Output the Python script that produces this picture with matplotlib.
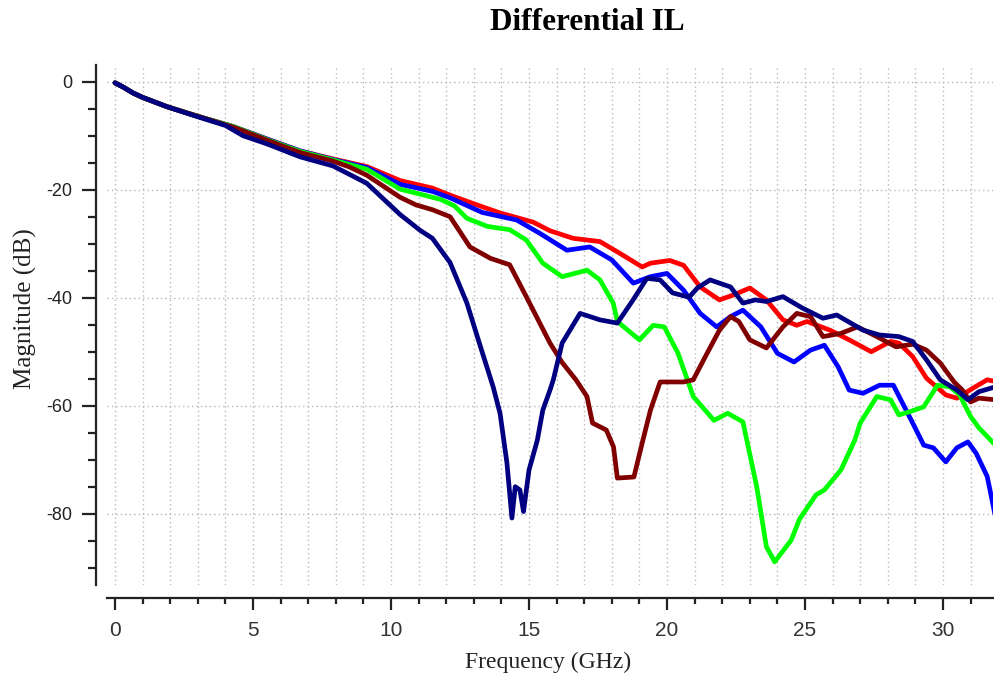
import matplotlib.pyplot as plt
from matplotlib.ticker import MultipleLocator

plt.rcParams['axes.unicode_minus'] = False

# values (GHz, dB)
f_red = [0, 0.3, 0.66, 1.0, 1.87, 3.0, 4.28, 5.5, 6.7, 7.9, 9.12, 10.33, 11.5, 12.14, 13.0, 13.95,
         15.15, 15.76, 16.6, 17.57, 18.2, 19.1, 19.4, 20.1, 20.6, 21.2, 21.9, 22.4, 23.0, 23.6,
         24.2, 24.7, 25.07, 25.9, 26.6, 27.4, 28.1, 28.4, 28.9, 29.4, 30.1, 30.5, 31.1, 31.6, 31.9]
il_red = [-0.2, -1.0, -2.1, -2.9, -4.6, -6.4, -8.3, -10.6, -12.8, -14.3, -15.7, -18.3, -19.7, -21.0,
          -22.6, -24.3, -26.0, -27.6, -29.0, -29.6, -31.5, -34.3, -33.6, -33.1, -34.0, -38.0, -40.4,
          -39.5, -38.2, -40.4, -44.1, -45.1, -44.4, -46.0, -47.8, -50.0, -48.1, -48.4, -50.9, -54.9,
          -58.0, -58.6, -56.7, -55.2, -55.5]

f_blue = [0, 0.3, 0.66, 1.0, 1.87, 3.0, 4.28, 5.5, 6.7, 7.9, 9.12, 10.33, 11.5, 12.14, 13.3, 14.55,
          15.4, 16.37, 17.2, 18.0, 18.78, 19.4, 20.0, 20.6, 21.2, 21.8, 22.3, 22.75, 23.4, 24.0,
          24.6, 25.2, 25.7, 26.2, 26.6, 27.1, 27.7, 28.2, 28.6, 28.9, 29.3, 29.65, 30.1, 30.5,
          30.9, 31.2, 31.6, 31.9]
il_blue = [-0.2, -1.0, -2.1, -2.9, -4.6, -6.4, -8.3, -10.6, -12.8, -14.4, -15.9, -19.0, -20.3, -21.5,
           -24.2, -25.6, -28.1, -31.2, -30.6, -33.0, -37.3, -36.1, -35.5, -38.6, -42.9, -45.4,
           -43.5, -42.3, -45.4, -50.3, -51.9, -49.7, -48.8, -52.8, -57.1, -57.7, -56.2, -56.2,
           -60.2, -63.2, -67.3, -67.8, -70.4, -67.8, -66.7, -68.8, -73.1, -80.6]

f_green = [0, 0.3, 0.66, 1.0, 1.87, 3.0, 4.28, 5.5, 6.7, 7.9, 9.12, 10.33, 11.2, 11.8, 12.3, 12.75,
           13.5, 14.3, 14.9, 15.5, 16.2, 17.1, 17.57, 18.05, 18.2, 19.0, 19.5, 19.9, 20.4, 20.95,
           21.7, 22.2, 22.75, 23.25, 23.6, 23.9, 24.5, 24.8, 25.4, 25.7, 26.3, 26.8, 27.0, 27.6,
           28.1, 28.4, 28.8, 29.3, 29.8, 30.25, 30.6, 31.0, 31.3, 31.9]
il_green = [-0.2, -1.0, -2.1, -2.9, -4.6, -6.4, -8.3, -10.7, -12.9, -14.5, -16.2, -19.9, -21.0,
            -21.8, -23.0, -25.3, -26.8, -27.4, -29.3, -33.6, -36.1, -34.9, -36.7, -41.0, -44.4,
            -47.8, -45.1, -45.4, -50.3, -58.3, -62.7, -61.4, -63.0, -75.0, -86.1, -88.9, -84.9,
            -81.0, -76.5, -75.6, -71.9, -66.4, -63.2, -58.3, -58.9, -61.7, -61.1, -60.2, -56.2,
            -56.5, -58.0, -62.0, -64.1, -67.3]

f_maroon = [0, 0.3, 0.66, 1.0, 1.87, 3.0, 4.28, 5.5, 6.7, 7.9, 8.5, 9.12, 10.33, 10.9, 11.5, 12.14,
            12.86, 13.6, 14.3, 14.9, 15.76, 16.2, 16.7, 17.1, 17.3, 17.8, 18.06, 18.2, 18.8, 19.1,
            19.4, 19.75, 20.6, 20.95, 21.45, 21.9, 22.3, 22.6, 23.0, 23.6, 24.2, 24.7, 25.2,
            25.65, 26.3, 26.9, 27.6, 28.3, 28.9, 29.4, 29.9, 30.4, 30.7, 31.0, 31.3, 31.9]
il_maroon = [-0.2, -1.0, -2.1, -2.9, -4.6, -6.4, -8.4, -10.8, -13.1, -14.7, -15.8, -17.3, -21.4,
             -22.8, -23.7, -25.0, -30.6, -32.7, -33.9, -39.8, -48.4, -52.0, -55.2, -58.3, -63.2,
             -64.5, -67.6, -73.4, -73.2, -66.9, -60.8, -55.6, -55.6, -55.2, -50.3, -46.0, -43.5,
             -44.4, -47.8, -49.3, -45.4, -42.9, -43.5, -47.2, -46.6, -45.4, -47.2, -49.1, -48.6,
             -49.7, -52.1, -55.6, -57.1, -59.3, -58.6, -58.9]

f_navy = [0, 0.3, 0.66, 1.0, 1.87, 3.0, 4.0, 4.64, 5.5, 6.7, 7.9, 9.12, 10.33, 11.05, 11.5, 12.14,
          12.75, 13.2, 13.7, 13.95, 14.2, 14.38, 14.5, 14.67, 14.8, 15.0, 15.3, 15.5, 15.76, 15.88,
          16.2, 16.85, 17.57, 18.2, 18.77, 19.27, 19.75, 20.2, 20.8, 21.1, 21.56, 22.3, 22.75,
          23.2, 23.6, 24.2, 24.9, 25.65, 26.15, 27.1, 27.7, 28.4, 28.9, 29.4, 29.9, 30.5, 30.9,
          31.3, 31.9]
il_navy = [-0.2, -1.0, -2.1, -2.9, -4.6, -6.5, -8.1, -10.0, -11.5, -13.9, -15.6, -18.8, -24.6,
           -27.5, -29.0, -33.5, -41.0, -48.4, -56.5, -61.4, -70.6, -80.8, -75.0, -75.6, -79.6,
           -71.9, -66.4, -60.8, -57.1, -55.2, -48.4, -42.9, -44.1, -44.7, -40.4, -36.4, -36.7,
           -39.1, -39.9, -38.2, -36.7, -38.0, -41.0, -40.4, -40.7, -39.8, -41.9, -43.8, -43.2,
           -46.0, -46.9, -47.2, -48.1, -51.5, -55.2, -57.1, -58.9, -57.4, -56.5]

series = [
    (f_red, il_red, '#ff0000'),
    (f_blue, il_blue, '#0000ff'),
    (f_green, il_green, '#00ff00'),
    (f_maroon, il_maroon, '#800000'),
    (f_navy, il_navy, '#000080'),
]

fig = plt.figure(figsize=(9.95, 6.82), dpi=100)
ax = fig.add_axes([107 / 995, 1 - 585 / 682, 886 / 995, 520 / 682])

for f, il, c in series:
    ax.plot(f, il, color=c, lw=3.4, solid_joinstyle='round', solid_capstyle='round')

ax.set_xlim(-0.29, 31.81)
ax.set_ylim(-93.2, 3.1)

ax.xaxis.set_major_locator(MultipleLocator(5))
ax.xaxis.set_minor_locator(MultipleLocator(1))
ax.yaxis.set_major_locator(MultipleLocator(20))
ax.yaxis.set_minor_locator(MultipleLocator(5))

ax.grid(which='both', axis='x', color='#b8b8b8', linestyle=(0, (1, 2.2)), lw=1.0)
ax.grid(which='major', axis='y', color='#b8b8b8', linestyle=(0, (1, 2.2)), lw=1.0)
ax.set_axisbelow(True)

for s in ['top', 'right']:
    ax.spines[s].set_visible(False)
ax.spines['left'].set_position(('outward', 8))
ax.spines['bottom'].set_position(('outward', 9.5))
for s in ['left', 'bottom']:
    ax.spines[s].set_linewidth(1.6)
    ax.spines[s].set_color('#222222')

ax.tick_params(axis='y', which='major', length=10, width=1.6, color='#222222', pad=7,
               labelsize=13, labelcolor='#222222')
ax.tick_params(axis='y', which='minor', length=5.8, width=1.6, color='#222222')
ax.tick_params(axis='x', which='major', length=8.6, width=1.6, color='#222222', pad=8,
               labelsize=15, labelcolor='#333333')
ax.tick_params(axis='x', which='minor', length=4.3, width=1.6, color='#222222')
for lab in ax.get_xticklabels() + ax.get_yticklabels():
    lab.set_family('Liberation Sans')

fig.text(587 / 995, 1 - 23 / 682, 'Differential IL', ha='center', va='center',
         fontsize=22.5, fontweight='bold', family='Liberation Serif')
fig.text(548 / 995, 1 - 662 / 682, 'Frequency (GHz)', ha='center', va='center',
         fontsize=17, family='Liberation Serif', color='#222222')
fig.text(25 / 995, 1 - 309 / 682, 'Magnitude (dB)', ha='center', va='center', rotation=90,
         fontsize=18, family='Liberation Serif', color='#222222')

fig.savefig('out.png', dpi=100)
